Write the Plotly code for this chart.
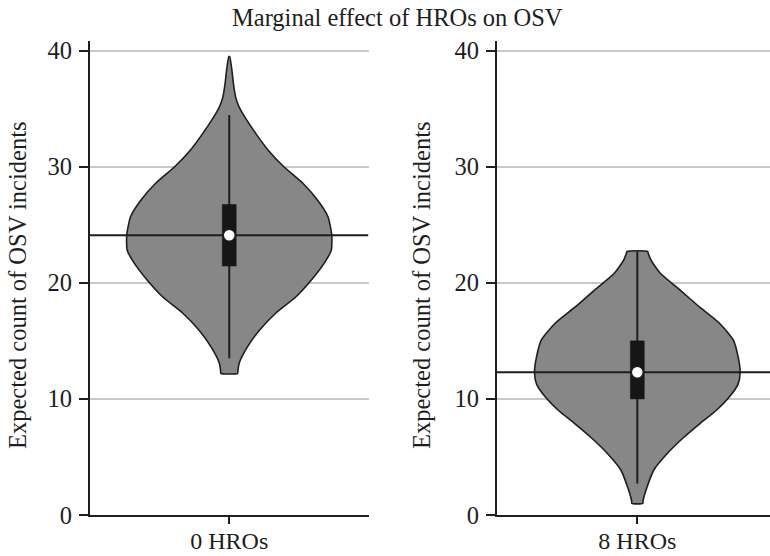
import numpy as np
import plotly.graph_objects as go

# ---------------- data ----------------
categories = ["0 HROs", "8 HROs"]
y_ticks = [0, 10, 20, 30, 40]

# violin outlines: y levels and relative density (half-width, max = 1)
left_y = [39.5, 38.3, 37.2, 36.0, 35.5, 34.9, 34.3, 32.9, 31.4, 30.0, 28.6, 27.1,
          25.7, 24.1, 22.8, 21.7, 20.2, 18.8, 17.4, 15.9, 14.5, 13.1, 12.45, 12.2]
left_density = [0.004, 0.026, 0.040, 0.062, 0.080, 0.110, 0.150, 0.255, 0.380, 0.530,
                0.712, 0.860, 0.958, 0.995, 0.990, 0.922, 0.793, 0.648, 0.453, 0.291,
                0.178, 0.097, 0.084, 0.081]

right_y = [22.7, 22.5, 21.96, 20.8, 19.4, 17.9, 16.5, 15.1, 13.6, 12.3, 11.3, 10.2, 9.0,
           7.9, 6.7, 5.3, 3.9, 2.4, 1.25, 1.0]
right_density = [0.100, 0.108, 0.133, 0.226, 0.413, 0.607, 0.801, 0.932, 0.981, 1.0, 0.981,
                 0.898, 0.767, 0.612, 0.453, 0.291, 0.162, 0.094, 0.056, 0.053]

medians = [24.1, 12.3]
q1 = [21.45, 10.0]
q3 = [26.75, 15.0]
whisker_low = [13.5, 2.7]
whisker_high = [34.45, 22.7]

# ---------------- style ----------------
W, H = 770, 556
FONT = "Liberation Serif"
INK = "#1e1e1e"
VIOLIN_HALF = 0.74      # x units at density 1
BOX_HALF = 0.05


def px_x(sx):
    return sx / W


def px_y(sy):
    return (H - sy) / H


x_ranges = [[-1.0, 1.0], [-1.01, 0.955]]
x_domains = [[px_x(90), px_x(368.5)], [px_x(497), 1.0]]
y_domain = [px_y(515), px_y(40.7)]
y_range = [0, 40.86]

fig = go.Figure()

panels = [(left_y, left_density), (right_y, right_density)]
for i, (ys, dens) in enumerate(panels):
    xa = "x" if i == 0 else "x2"
    ya = "y" if i == 0 else "y2"
    ys = np.array(ys)
    d = np.array(dens) * VIOLIN_HALF
    px = np.concatenate([d, -d[::-1], d[:1]])
    py = np.concatenate([ys, ys[::-1], ys[:1]])
    fig.add_trace(go.Scatter(x=px, y=py, mode="lines", fill="toself",
                             fillcolor="#878787",
                             line=dict(color=INK, width=1.6, shape="spline", smoothing=0.55),
                             xaxis=xa, yaxis=ya, hoverinfo="skip", showlegend=False))
    # median reference line across the panel
    fig.add_trace(go.Scatter(x=x_ranges[i], y=[medians[i], medians[i]], mode="lines",
                             line=dict(color=INK, width=2),
                             xaxis=xa, yaxis=ya, hoverinfo="skip", showlegend=False,
                             cliponaxis=False))
    # whisker
    fig.add_trace(go.Scatter(x=[0, 0], y=[whisker_low[i], whisker_high[i]], mode="lines",
                             line=dict(color=INK, width=2),
                             xaxis=xa, yaxis=ya, hoverinfo="skip", showlegend=False))
    # box
    fig.add_trace(go.Scatter(x=[-BOX_HALF, BOX_HALF, BOX_HALF, -BOX_HALF, -BOX_HALF],
                             y=[q1[i], q1[i], q3[i], q3[i], q1[i]], mode="lines",
                             fill="toself", fillcolor="#161616",
                             line=dict(color="#161616", width=0.5),
                             xaxis=xa, yaxis=ya, hoverinfo="skip", showlegend=False))
    # median dot
    fig.add_trace(go.Scatter(x=[0], y=[medians[i]], mode="markers",
                             marker=dict(color="white", size=12,
                                         line=dict(color=INK, width=1.5)),
                             xaxis=xa, yaxis=ya, hoverinfo="skip", showlegend=False))

ytick_font = dict(family=FONT, size=24.5, color=INK)
xtick_font = dict(family=FONT, size=24, color=INK)
for i in range(2):
    sfx = "" if i == 0 else "2"
    fig.update_layout(**{
        "xaxis" + sfx: dict(domain=x_domains[i], range=x_ranges[i], anchor="y" + sfx,
                            tickvals=[0], ticktext=[categories[i]], ticks="outside",
                            ticklen=7, tickwidth=2, tickcolor=INK,
                            showline=True, linewidth=2, linecolor=INK,
                            showgrid=False, zeroline=False, tickfont=xtick_font,
                            ticklabelstandoff=-4,
                            automargin=False, fixedrange=True),
        "yaxis" + sfx: dict(domain=y_domain, range=y_range, anchor="x" + sfx,
                            tickvals=y_ticks, ticks="outside", ticklen=9, tickwidth=2,
                            tickcolor=INK, showline=True, linewidth=2, linecolor=INK,
                            showgrid=True, gridcolor="#c8c8c8", gridwidth=1.5,
                            zeroline=False, tickfont=ytick_font, ticklabelstandoff=2,
                            automargin=False, fixedrange=True),
    })

annotations = [
    dict(text="Marginal effect of HROs on OSV", x=px_x(397.5), y=px_y(17),
         xref="paper", yref="paper", xanchor="center", yanchor="middle",
         showarrow=False, font=dict(family=FONT, size=24.5, color=INK)),
]
for xc in [18, 422]:
    annotations.append(dict(text="Expected count of OSV incidents", textangle=-90,
                            x=px_x(xc), y=px_y(285), xref="paper", yref="paper",
                            xanchor="center", yanchor="middle", showarrow=False,
                            font=dict(family=FONT, size=24.5, color=INK)))

fig.update_layout(width=W, height=H,
                  margin=dict(l=0, r=0, t=0, b=0, autoexpand=False),
                  paper_bgcolor="white", plot_bgcolor="white",
                  annotations=annotations, showlegend=False)

fig.write_html("out.html", config={"displayModeBar": False},
               post_script="document.body.style.margin='0';"
                           "document.body.style.overflow='hidden';")
